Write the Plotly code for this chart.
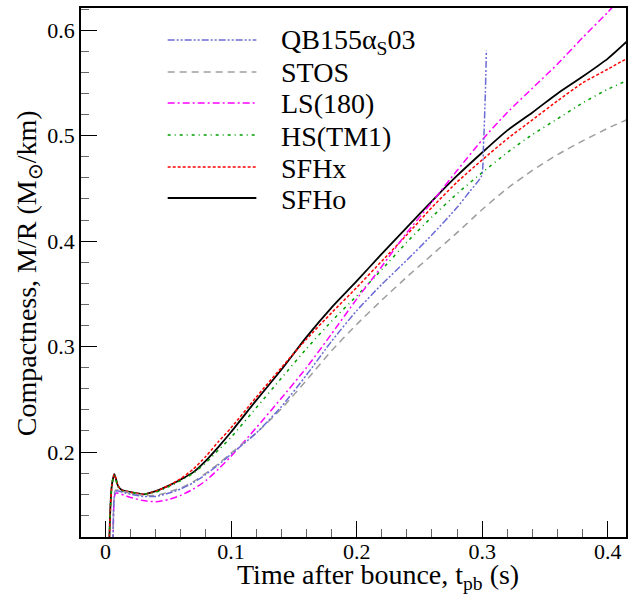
import plotly.graph_objects as go

# ---------------- data ----------------
t_main = [0.003, 0.004, 0.005, 0.006, 0.007, 0.008, 0.010, 0.013, 0.02, 0.03, 0.04, 0.05,
          0.06, 0.07, 0.08, 0.09, 0.10, 0.12, 0.14, 0.16, 0.18, 0.20, 0.22, 0.24, 0.26,
          0.28, 0.30, 0.32, 0.34, 0.36, 0.38, 0.40, 0.415]
sfho = [0.115, 0.150, 0.168, 0.175, 0.179, 0.176, 0.168, 0.164, 0.162, 0.160, 0.163, 0.168,
        0.174, 0.181, 0.192, 0.205, 0.219, 0.249, 0.278, 0.309, 0.337, 0.362, 0.388, 0.413,
        0.438, 0.462, 0.484, 0.505, 0.522, 0.540, 0.556, 0.573, 0.589]
sfhx = [0.115, 0.150, 0.168, 0.175, 0.179, 0.176, 0.168, 0.164, 0.162, 0.160, 0.163, 0.168,
        0.175, 0.184, 0.196, 0.210, 0.223, 0.252, 0.280, 0.307, 0.332, 0.356, 0.381, 0.406,
        0.432, 0.456, 0.477, 0.497, 0.515, 0.533, 0.550, 0.563, 0.573]
hs_tm1 = [0.115, 0.150, 0.168, 0.175, 0.178, 0.175, 0.167, 0.163, 0.162, 0.160, 0.162, 0.167,
          0.173, 0.180, 0.190, 0.202, 0.214, 0.242, 0.270, 0.298, 0.324, 0.348, 0.373, 0.399,
          0.423, 0.445, 0.465, 0.484, 0.501, 0.516, 0.531, 0.544, 0.552]

t_ls = [0.006, 0.0065, 0.007, 0.008, 0.01, 0.02, 0.03, 0.04, 0.05, 0.06, 0.07, 0.08, 0.09,
        0.10, 0.12, 0.14, 0.16, 0.18, 0.20, 0.22, 0.24, 0.26, 0.28, 0.30, 0.32, 0.34, 0.36,
        0.38, 0.40, 0.41]
ls180 = [0.115, 0.145, 0.157, 0.161, 0.161, 0.157, 0.154, 0.153, 0.155, 0.159, 0.165, 0.173,
         0.184, 0.196, 0.223, 0.251, 0.280, 0.312, 0.345, 0.376, 0.408, 0.437, 0.467, 0.496,
         0.522, 0.545, 0.568, 0.593, 0.617, 0.630]

t_stos = [0.006, 0.0065, 0.007, 0.008, 0.01, 0.02, 0.03, 0.04, 0.05, 0.06, 0.07, 0.08, 0.09,
          0.10, 0.12, 0.14, 0.16, 0.18, 0.20, 0.22, 0.24, 0.26, 0.28, 0.30, 0.32, 0.34, 0.36,
          0.38, 0.40, 0.415]
stos = [0.115, 0.150, 0.160, 0.164, 0.164, 0.161, 0.159, 0.159, 0.162, 0.166, 0.172, 0.180,
        0.189, 0.199, 0.218, 0.241, 0.268, 0.296, 0.321, 0.344, 0.366, 0.387, 0.408, 0.430,
        0.450, 0.467, 0.482, 0.495, 0.507, 0.515]

t_qb = [0.006, 0.0065, 0.007, 0.008, 0.01, 0.02, 0.03, 0.04, 0.05, 0.06, 0.07, 0.08, 0.09,
        0.10, 0.12, 0.14, 0.16, 0.18, 0.20, 0.22, 0.24, 0.26, 0.28, 0.29, 0.2995, 0.301,
        0.3025, 0.3033]
qb155 = [0.115, 0.148, 0.158, 0.163, 0.163, 0.160, 0.158, 0.158, 0.161, 0.165, 0.171, 0.179,
         0.188, 0.198, 0.218, 0.243, 0.273, 0.305, 0.334, 0.359, 0.382, 0.406, 0.432, 0.447,
         0.462, 0.490, 0.540, 0.581]

x_ticks = [0, 0.1, 0.2, 0.3, 0.4]
x_tick_labels = ["0", "0.1", "0.2", "0.3", "0.4"]
y_ticks = [0.2, 0.3, 0.4, 0.5, 0.6]
y_tick_labels = ["0.2", "0.3", "0.4", "0.5", "0.6"]

series = [
    ("QB155α<sub>S</sub>03", t_qb, qb155, "#6b6bd6", "7px,2px,2px,2px,2px,2px", 1.5),
    ("STOS", t_stos, stos, "#9e9e9e", "7px,5px", 1.5),
    ("LS(180)", t_ls, ls180, "#ff00ff", "7px,3px,2px,3px", 1.5),
    ("HS(TM1)", t_main, hs_tm1, "#00a000", "3px,4px,1px,4px", 1.5),
    ("SFHx", t_main, sfhx, "#ff0000", "3px,2px", 1.5),
    ("SFHo", t_main, sfho, "#000000", "solid", 1.8),
]

FONT = "Liberation Serif"

fig = go.Figure()
# draw in reverse so SFHo ends on top
for name, tx, vy, col, dash, w in reversed(series):
    fig.add_trace(go.Scatter(x=tx, y=vy, mode="lines", name=name, showlegend=False,
                             line=dict(color=col, dash=dash, width=w, shape="spline",
                                       smoothing=0.6)))

# plot area in pixels
L, R, T, B = 81, 628, 8, 537
W, H = 634, 596
pw, ph = R - L, B - T

def px(xp):
    return (xp - L) / pw

def py(yp):
    return (B - yp) / ph

shapes = []
annotations = []
leg_rows = [40, 72, 103, 135, 167, 198]
for (name, tx, vy, col, dash, w), ry in zip(series, leg_rows):
    shapes.append(dict(type="line", xref="paper", yref="paper",
                       x0=px(168), x1=px(257), y0=py(ry), y1=py(ry),
                       line=dict(color=col, dash=dash, width=w)))
    annotations.append(dict(text=name, xref="paper", yref="paper", x=px(280), y=py(ry + 1),
                            xanchor="left", yanchor="middle", showarrow=False,
                            font=dict(family=FONT, size=28, color="black")))

annotations.append(dict(text="Time after bounce, t<sub>pb</sub> (s)", xref="paper", yref="paper",
                        x=px(379), y=py(576), xanchor="center", yanchor="middle",
                        showarrow=False, font=dict(family=FONT, size=28, color="black")))
annotations.append(dict(text="Compactness, M/R (M<sub>⊙</sub>/km)", xref="paper", yref="paper",
                        x=px(28), y=py(273), xanchor="center", yanchor="middle", textangle=-90,
                        showarrow=False, font=dict(family=FONT, size=28, color="black")))

axis_common = dict(showgrid=False, zeroline=False, showline=True, linecolor="black",
                   linewidth=1.5, mirror=True, ticks="inside", ticklen=16, tickwidth=1.3,
                   tickcolor="black", tickfont=dict(family=FONT, size=22, color="black"))

fig.update_layout(
    width=W, height=H, autosize=False,
    margin=dict(l=L, r=W - R, t=T, b=H - B, pad=0),
    paper_bgcolor="white", plot_bgcolor="white",
    font=dict(family=FONT),
    shapes=shapes, annotations=annotations, showlegend=False,
    xaxis=dict(range=[-0.0195, 0.4145], tickvals=x_ticks, ticktext=x_tick_labels,
               ticklabelstandoff=-6,
               minor=dict(dtick=0.02, tick0=0, ticks="inside", ticklen=8, tickcolor="#666666",
                          tickwidth=1.3),
               **axis_common),
    yaxis=dict(range=[0.1195, 0.621], tickvals=y_ticks, ticktext=y_tick_labels,
               minor=dict(dtick=0.02, tick0=0, ticks="inside", ticklen=8, tickcolor="#666666",
                          tickwidth=1.3),
               **axis_common),
)

fig.write_html("out.html")
